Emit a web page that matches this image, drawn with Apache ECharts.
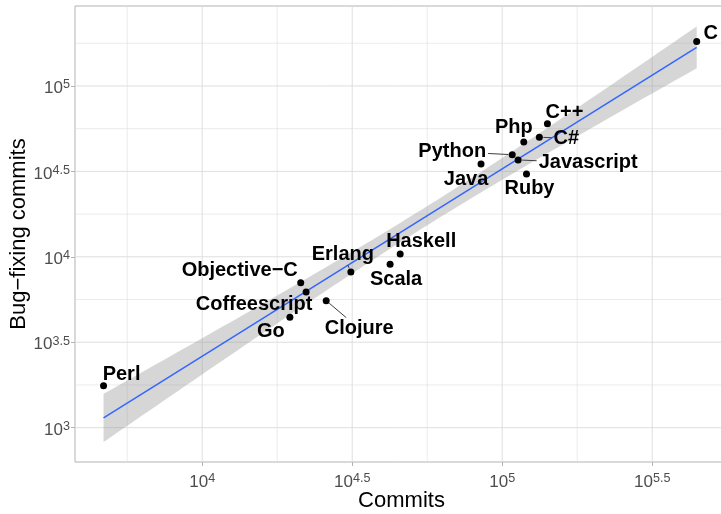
<!DOCTYPE html>
<html>
<head>
<meta charset="utf-8">
<script src="https://cdn.jsdelivr.net/npm/echarts@6/dist/echarts.min.js"></script>
<style>
  html, body { margin: 0; padding: 0; background: #ffffff; }
  #chart { width: 721px; height: 514px; }
</style>
</head>
<body>
<div id="chart"></div>
<script>
// Commits vs. bug-fixing commits per language (log–log)
const languages = ['C', 'C++', 'C#', 'Php', 'Python', 'Javascript', 'Java', 'Ruby',
  'Haskell', 'Scala', 'Erlang', 'Objective−C', 'Coffeescript', 'Clojure', 'Go', 'Perl'];
const commits = [445000, 141500, 133000, 118000, 108000, 113000, 85000, 120500,
  45700, 42300, 31300, 21300, 22200, 25900, 19600, 4690];
const bugFixingCommits = [182000, 60000, 50100, 47000, 39600, 36900, 34900, 30500,
  10400, 9040, 8150, 7060, 6230, 5540, 4430, 1760];

// Tick exponents (powers of ten)
const xMajorTicks = [4, 4.5, 5, 5.5];
const xMinorTicks = [3.75, 4.25, 4.75, 5.25];
const yMajorTicks = [3, 3.5, 4, 4.5, 5];
const yMinorTicks = [3.25, 3.75, 4.25, 4.75, 5.25];

// Axis extents in log10 units
const xMin = 3.576, xMax = 5.746;
const yMin = 2.799, yMax = 5.468;

// Where each repelled label sits relative to its point (px)
const labelOffsets = {
  'C': [14, -8], 'C++': [17, -11], 'C#': [27, 1], 'Php': [-10, -14],
  'Python': [-60, -3], 'Javascript': [70, 3], 'Java': [-15, 15], 'Ruby': [3, 14],
  'Haskell': [21, -12], 'Scala': [6, 15], 'Erlang': [-8, -18], 'Objective−C': [-61, -12],
  'Coffeescript': [-52, 13], 'Clojure': [33, 28], 'Go': [-19, 14], 'Perl': [18, -11]
};
const withSegment = ['C#', 'Python', 'Javascript', 'Erlang', 'Clojure'];

const FONT = "'Liberation Sans', Arial, Helvetica, sans-serif";
const LABEL_SIZE = 20;

// Linear fit in log space with a 95% confidence band
const lx = commits.map(Math.log10);
const ly = bugFixingCommits.map(Math.log10);
const n = lx.length;
const mx = lx.reduce((a, b) => a + b, 0) / n;
const my = ly.reduce((a, b) => a + b, 0) / n;
let sxx = 0, sxy = 0;
for (let i = 0; i < n; i++) { sxx += (lx[i] - mx) ** 2; sxy += (lx[i] - mx) * (ly[i] - my); }
const slope = sxy / sxx;
const intercept = my - slope * mx;
let rss = 0;
for (let i = 0; i < n; i++) { rss += (ly[i] - intercept - slope * lx[i]) ** 2; }
const sigma = Math.sqrt(rss / (n - 2));
const tCrit = 2.144787; // t(0.975, df = 14)
const fitX0 = Math.min(...lx), fitX1 = Math.max(...lx);
const steps = 80;
const bandUpper = [], bandLower = [];
for (let k = 0; k <= steps; k++) {
  const x = fitX0 + (fitX1 - fitX0) * k / steps;
  const yHat = intercept + slope * x;
  const se = sigma * Math.sqrt(1 / n + (x - mx) ** 2 / sxx);
  bandUpper.push([x, yHat + tCrit * se]);
  bandLower.push([x, yHat - tCrit * se]);
}
const fitLine = [[fitX0, intercept + slope * fitX0], [fitX1, intercept + slope * fitX1]];

function expLabel(v) {
  const e = Number.isInteger(v) ? String(v) : v.toFixed(1);
  return '{b|10}{e|' + e + '}';
}
const tickRich = {
  b: { fontSize: 17, color: '#4D4D4D', fontFamily: FONT },
  e: { fontSize: 12.6, color: '#4D4D4D', fontFamily: FONT, padding: [0, 0, 7, 0] }
};

function gridLines(values, axis, width) {
  return {
    type: 'custom', silent: true, z: 0,
    data: values.map(v => axis === 'x' ? [v, yMin] : [xMin, v]),
    renderItem(params, api) {
      const cs = params.coordSys;
      if (axis === 'x') {
        const px = api.coord([api.value(0), yMin])[0];
        return { type: 'line', shape: { x1: px, y1: cs.y, x2: px, y2: cs.y + cs.height },
          style: { stroke: '#DEDEDE', lineWidth: width } };
      }
      const py = api.coord([xMin, api.value(1)])[1];
      return { type: 'line', shape: { x1: cs.x, y1: py, x2: cs.x + cs.width, y2: py },
        style: { stroke: '#DEDEDE', lineWidth: width } };
    }
  };
}

// Leader segments from a point to the edge of its label box
const measureCtx = document.createElement('canvas').getContext('2d');
measureCtx.font = 'bold ' + LABEL_SIZE + 'px ' + FONT;
const segmentIdx = languages.map((l, i) => i).filter(i => withSegment.includes(languages[i]));
const segmentSeries = {
  type: 'custom', silent: true, z: 3,
  data: segmentIdx.map(i => [lx[i], ly[i], i]),
  renderItem(params, api) {
    const i = api.value(2);
    const p = api.coord([api.value(0), api.value(1)]);
    const off = labelOffsets[languages[i]];
    const c = [p[0] + off[0], p[1] + off[1]];
    const hw = measureCtx.measureText(languages[i]).width / 2 + 2;
    const hh = LABEL_SIZE / 2 + 1;
    const dx = p[0] - c[0], dy = p[1] - c[1];
    const t = Math.min(dx ? hw / Math.abs(dx) : Infinity, dy ? hh / Math.abs(dy) : Infinity);
    if (t >= 1) return null;
    const len = Math.hypot(dx, dy);
    const gap = 4 / len;
    return {
      type: 'line',
      shape: { x1: p[0] - dx * gap, y1: p[1] - dy * gap, x2: c[0] + dx * t, y2: c[1] + dy * t },
      style: { stroke: '#404040', lineWidth: 1 }
    };
  }
};

const chart = echarts.init(document.getElementById('chart'), null, { renderer: 'canvas' });
chart.setOption({
  backgroundColor: '#ffffff',
  animation: false,
  grid: {
    left: 75, right: -5, top: 6, bottom: 52,
    outerBoundsMode: 'none', containLabel: false,
    show: true, borderColor: '#B3B3B3', borderWidth: 1, backgroundColor: '#ffffff'
  },
  xAxis: {
    type: 'value', min: xMin, max: xMax,
    name: 'Commits', nameLocation: 'middle', nameGap: 28, nameMoveOverlap: false,
    nameTextStyle: { fontSize: 22, color: '#000000', fontFamily: FONT, padding: [0, 0, 0, 2] },
    axisLine: { show: false },
    axisTick: { show: true, customValues: xMajorTicks, length: 4, lineStyle: { color: '#B3B3B3', width: 1 } },
    axisLabel: { customValues: xMajorTicks, formatter: expLabel, rich: tickRich, margin: 10 },
    splitLine: { show: false }
  },
  yAxis: {
    type: 'value', min: yMin, max: yMax,
    name: 'Bug−fixing commits', nameLocation: 'middle', nameGap: 45, nameMoveOverlap: false,
    nameTextStyle: { fontSize: 22, color: '#000000', fontFamily: FONT },
    axisLine: { show: false },
    axisTick: { show: true, customValues: yMajorTicks, length: 4, lineStyle: { color: '#B3B3B3', width: 1 } },
    axisLabel: { customValues: yMajorTicks, formatter: expLabel, rich: tickRich, margin: 5, padding: [5, 0, 0, 0] },
    splitLine: { show: false }
  },
  series: [
    gridLines(xMinorTicks, 'x', 0.6),
    gridLines(yMinorTicks, 'y', 0.6),
    gridLines(xMajorTicks, 'x', 1),
    gridLines(yMajorTicks, 'y', 1),
    {
      type: 'custom', silent: true, z: 1,
      data: [[fitX0, intercept]],
      renderItem(params, api) {
        const pts = bandUpper.concat(bandLower.slice().reverse()).map(p => api.coord(p));
        return { type: 'polygon', shape: { points: pts }, style: { fill: 'rgba(153,153,153,0.4)' } };
      }
    },
    {
      type: 'line', z: 2, silent: true, symbol: 'none',
      data: fitLine,
      lineStyle: { color: '#3366FF', width: 1.5 }
    },
    segmentSeries,
    {
      type: 'scatter', z: 4, symbol: 'circle', symbolSize: 7,
      itemStyle: { color: '#000000', opacity: 1 },
      data: languages.map((name, i) => ({ name, value: [lx[i], ly[i]] })),
      label: {
        show: true, position: 'inside', formatter: '{b}',
        fontSize: LABEL_SIZE, fontWeight: 'bold', color: '#000000', fontFamily: FONT
      },
      labelLayout(params) {
        const off = labelOffsets[languages[params.dataIndex]];
        return { dx: off[0], dy: off[1] };
      }
    }
  ]
});
</script>
</body>
</html>
